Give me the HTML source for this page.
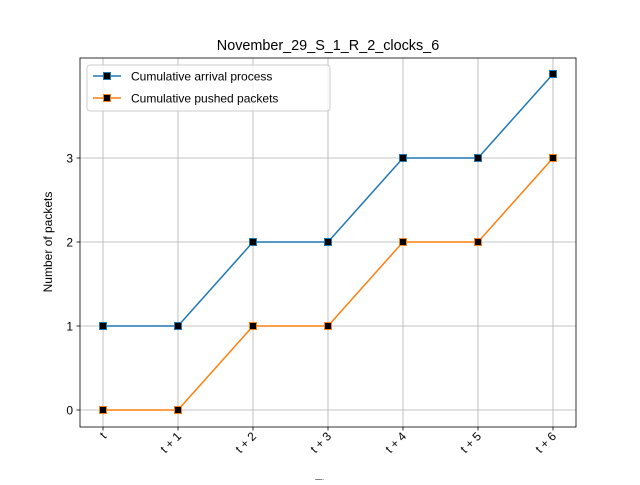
<!DOCTYPE html>
<html><head><meta charset="utf-8"><style>body{margin:0;background:#fff}svg{font-family:"Liberation Sans","DejaVu Sans",sans-serif}</style></head>
<body>
<svg id="c" width="640" height="480" viewBox="0 0 640 480"></svg>
<script>
const categories=["t","t + 1","t + 2","t + 3","t + 4","t + 5","t + 6"];
const arrivals=[1,1,2,2,3,3,4];
const pushed=[0,0,1,1,2,2,3];
const yTicks=[0,1,2,3];
const svg=document.getElementById('c');
const NS='http://www.w3.org/2000/svg';
const L=80,R=576,T=58,B=427;
const xs=i=>103+i*(553-103)/(categories.length-1);
const ys=v=>410-v*84;
function el(tag,attrs,parent){const e=document.createElementNS(NS,tag);for(const k in attrs)e.setAttribute(k,attrs[k]);(parent||svg).appendChild(e);return e;}
// grid
categories.forEach((c,i)=>{const g=el('line',{x1:xs(i),x2:xs(i),y1:T,y2:B,stroke:'#b0b0b0','stroke-width':0.8});


el('line',{x1:xs(i),x2:xs(i),y1:B,y2:B+3.5,stroke:'#000','stroke-width':0.8});
const t=el('text',{x:0,y:0,'font-size':12,'text-anchor':'end',transform:`translate(${xs(i)+4},${B+10}) rotate(-45)`});t.textContent=c;

});
yTicks.forEach(v=>{const g=el('line',{x1:L,x2:R,y1:ys(v),y2:ys(v),stroke:'#b0b0b0','stroke-width':0.8});


el('line',{x1:L-3.5,x2:L,y1:ys(v),y2:ys(v),stroke:'#000','stroke-width':0.8});
const t=el('text',{x:L-7,y:ys(v)+4.5,'font-size':12,'text-anchor':'end'});t.textContent=v;

});
function series(vals,color,name){const p=el('polyline',{points:vals.map((v,i)=>xs(i)+','+ys(v)).join(' '),fill:'none',stroke:color,'stroke-width':1.5});


vals.forEach((v,i)=>{const m=el('rect',{x:xs(i)-3.5,y:ys(v)-3.5,width:7,height:7,fill:'#000',stroke:color,'stroke-width':1});

});}
series(arrivals,'#1f77b4','arrival');
series(pushed,'#ff7f0e','pushed');
const fr=el('rect',{x:L,y:T,width:R-L,height:B-T,fill:'none',stroke:'#000','stroke-width':0.8});


const tt=el('text',{x:328,y:50,'font-size':14.4,'text-anchor':'middle'});tt.textContent='November_29_S_1_R_2_clocks_6';


const yl=el('text',{x:0,y:0,'font-size':12,'text-anchor':'middle',transform:'translate(52,242) rotate(-90)'});yl.textContent='Number of packets';


const xl=el('text',{x:328,y:488,'font-size':12,'text-anchor':'middle'});xl.textContent='Time';


// legend
const lg=el('g',{});


el('rect',{x:87,y:65,width:243,height:46,rx:3,fill:'#fff','fill-opacity':0.8,stroke:'#ccc'},lg);
[['Cumulative arrival process','#1f77b4',76],['Cumulative pushed packets','#ff7f0e',98]].forEach(([n,c,y])=>{
el('line',{x1:93,x2:121,y1:y,y2:y,stroke:c,'stroke-width':1.5},lg);
el('rect',{x:103.5,y:y-3.5,width:7,height:7,fill:'#000',stroke:c},lg);
const t=el('text',{x:131,y:y+4.5,'font-size':12},lg);t.textContent=n;

});
</script>
</body></html>
